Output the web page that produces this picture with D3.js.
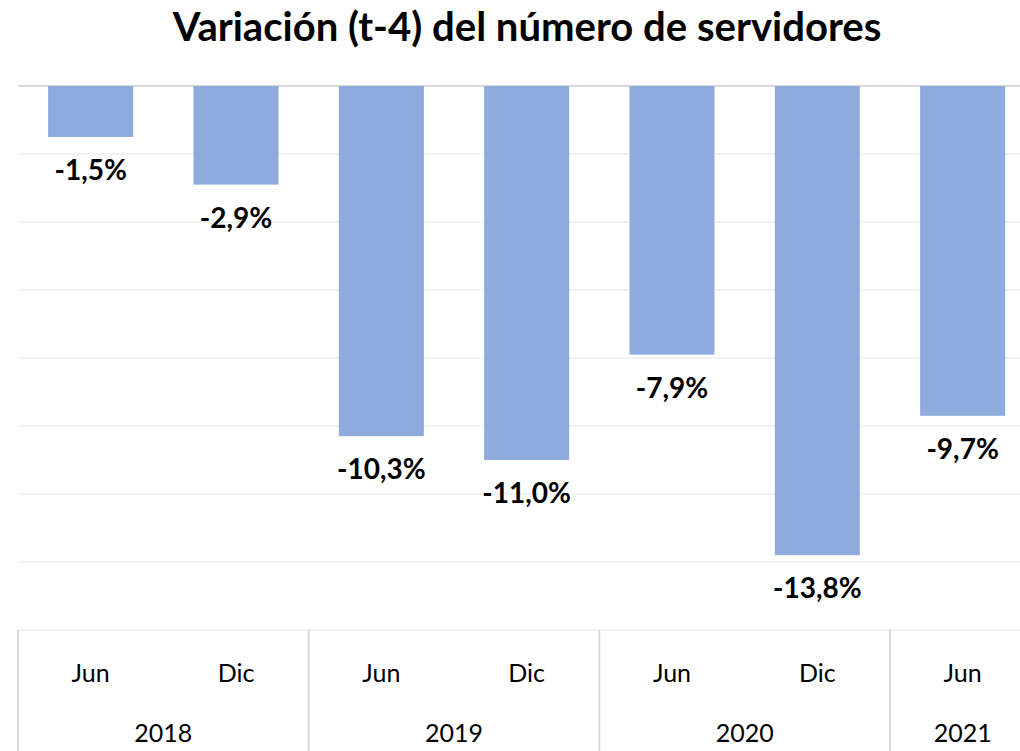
<!DOCTYPE html>
<html>
<head>
<meta charset="utf-8">
<script src="https://cdn.jsdelivr.net/npm/d3@7"></script>
<style>
  body { margin: 0; background: #fff; }
  svg { display: block; }
</style>
</head>
<body>
<div id="chart"></div>
<script>
// datos
const periods = ['Jun', 'Dic', 'Jun', 'Dic', 'Jun', 'Dic', 'Jun'];
const years = ['2018', '2019', '2020', '2021'];
const yearSpan = [2, 2, 2, 1];
const values = [-1.5, -2.9, -10.3, -11.0, -7.9, -13.8, -9.7];
const yTicks = [0, -2, -4, -6, -8, -10, -12, -14, -16];

const W = 1020, H = 751;
const left = 18, step = 145.33;
const top0 = 86, bottom0 = 630;

const svg = d3.select('#chart').append('svg')
  .attr('width', W).attr('height', H);

const x = d3.scaleBand()
  .domain(d3.range(values.length))
  .range([left, left + step * values.length])
  .paddingInner(0.415)
  .paddingOuter(0.2075);

const y = d3.scaleLinear().domain([0, -16]).range([top0, bottom0]);

// lineas de cuadricula
svg.append('g')
  .selectAll('line')
  .data(yTicks)
  .join('line')
  .attr('x1', left).attr('x2', W)
  .attr('y1', d => y(d)).attr('y2', d => y(d))
  .attr('stroke', d => d === 0 ? '#d9d9d9' : '#efefef')
  .attr('stroke-width', d => d === 0 ? 2 : 1.5);

// barras
svg.append('g')
  .selectAll('rect')
  .data(values)
  .join('rect')
  .attr('x', (d, i) => x(i))
  .attr('width', x.bandwidth())
  .attr('y', y(0))
  .attr('height', d => y(d) - y(0))
  .attr('fill', '#8faadc');

// etiquetas
svg.append('g')
  .selectAll('text')
  .data(values)
  .join('text')
  .attr('x', (d, i) => x(i) + x.bandwidth() / 2)
  .attr('y', d => y(d) + 43)
  .attr('text-anchor', 'middle')
  .attr('font-family', 'Lato, sans-serif')
  .attr('font-weight', 'bold')
  .attr('font-size', 28)
  .attr('fill', '#000')
  .text(d => d.toFixed(1).replace('.', ',') + '%');

// eje de categorias
const axisG = svg.append('g');
let acc = 0;
const bounds = [0];
yearSpan.forEach(s => { acc += s; bounds.push(acc); });

axisG.selectAll('line.sep')
  .data(bounds.slice(0, -1))
  .join('line')
  .attr('class', 'sep')
  .attr('x1', d => left + d * step).attr('x2', d => left + d * step)
  .attr('y1', bottom0).attr('y2', H)
  .attr('stroke', '#d9d9d9').attr('stroke-width', 2);

axisG.selectAll('text.per')
  .data(periods)
  .join('text')
  .attr('class', 'per')
  .attr('x', (d, i) => x(i) + x.bandwidth() / 2)
  .attr('y', 682)
  .attr('text-anchor', 'middle')
  .attr('font-family', 'Lato, sans-serif')
  .attr('font-size', 25)
  .attr('fill', '#000')
  .text(d => d);

axisG.selectAll('text.yr')
  .data(years)
  .join('text')
  .attr('class', 'yr')
  .attr('x', (d, i) => {
    const a = x(bounds[i]) , b = x(bounds[i + 1] - 1) + x.bandwidth();
    return (a + b) / 2;
  })
  .attr('y', 742)
  .attr('text-anchor', 'middle')
  .attr('font-family', 'Lato, sans-serif')
  .attr('font-size', 25)
  .attr('fill', '#000')
  .text(d => d);

// titulo
const title = svg.append('text')
  .attr('x', 527)
  .attr('y', 41)
  .attr('text-anchor', 'middle')
  .attr('font-family', 'Lato, sans-serif')
  .attr('font-weight', 'bold')
  .attr('font-size', 36)
  .attr('fill', '#000')
  .text('Variación (t-4) del número de servidores');

const tw = title.node().getComputedTextLength();
title.attr('font-size', 36 * 709 / tw);
</script>
</body>
</html>
